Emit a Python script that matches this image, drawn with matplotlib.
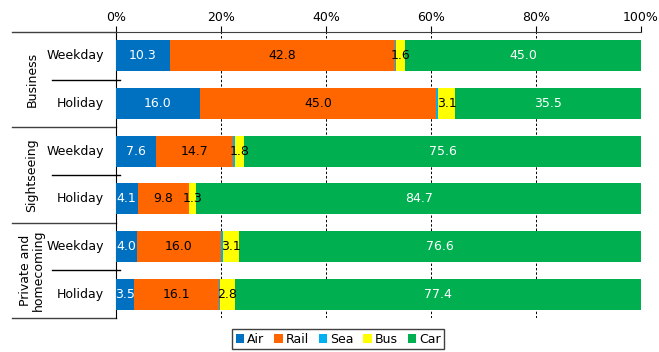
import matplotlib.pyplot as plt
import matplotlib.transforms as mtransforms
import numpy as np

plt.rcParams["font.family"] = ["DejaVu Sans"]
plt.rcParams["font.size"] = 9

groups = ["Business", "Sightseeing", "Private and\nhomecoming"]
days = ["Weekday", "Holiday"]
modes = ["Air", "Rail", "Sea", "Bus", "Car"]
colors = ["#0070C0", "#FF6600", "#00B0F0", "#FFFF00", "#00B050"]
label_colors = ["white", "black", None, "black", "white"]

air = [10.3, 16.0, 7.6, 4.1, 4.0, 3.5]
rail = [42.8, 45.0, 14.7, 9.8, 16.0, 16.1]
sea = [0.3, 0.4, 0.3, 0.1, 0.3, 0.2]
bus = [1.6, 3.1, 1.8, 1.3, 3.1, 2.8]
car = [45.0, 35.5, 75.6, 84.7, 76.6, 77.4]
values = [air, rail, sea, bus, car]

fig = plt.figure(figsize=(6.59, 3.52), dpi=100)
ax = fig.add_axes([0.176, 0.0966, 0.7967, 0.8124])

y = np.arange(6)
left = np.zeros(6)
for mode, vals, color, lc in zip(modes, values, colors, label_colors):
    vals = np.array(vals)
    ax.barh(y, vals, left=left, height=0.65, color=color, label=mode,
            edgecolor="none", zorder=3)
    if lc is not None:
        for yi, (l, v) in enumerate(zip(left, vals)):
            ax.text(l + v / 2, yi, f"{v:.1f}", ha="center", va="center",
                    color=lc, fontsize=9, zorder=4)
    left = left + vals

ax.set_xlim(0, 100)
ax.set_ylim(5.5, -0.5)
ax.xaxis.tick_top()
ax.set_xticks([0, 20, 40, 60, 80, 100])
ax.set_xticklabels([f"{t}%" for t in [0, 20, 40, 60, 80, 100]])
ax.tick_params(axis="x", length=4, width=0.8, pad=2)
ax.set_yticks([])
for s in ["right", "bottom"]:
    ax.spines[s].set_visible(False)
ax.spines["left"].set_color("black")
ax.spines["top"].set_color("#404040")
for xv in [20, 40, 60, 80, 100]:
    ax.axvline(xv, color="black", linewidth=0.7, linestyle=(0, (2.5, 2)),
               zorder=1)

trans = mtransforms.blended_transform_factory(ax.transAxes, ax.transData)
for yv in [-0.5, 1.5, 3.5, 5.5]:
    ax.plot([-0.198, 0], [yv, yv], color="#404040", linewidth=1.0,
            transform=trans, clip_on=False)
for yv in [0.5, 2.5, 4.5]:
    ax.plot([-0.122, 0.0076], [yv, yv], color="black", linewidth=1.0,
            transform=trans, clip_on=False)

for i in range(6):
    ax.text(-0.023, i, days[i % 2], ha="right", va="center",
            transform=trans, fontsize=9)
for g, name in enumerate(groups):
    ax.text(-0.16, 2 * g + 0.5, name, ha="center", va="center",
            rotation=90, transform=trans, fontsize=9, linespacing=1.0)

fig.legend(loc="lower center", bbox_to_anchor=(0.513, -0.01), ncol=5,
           frameon=True, fancybox=False, edgecolor="#404040", framealpha=1,
           handlelength=0.7, handleheight=0.7, handletextpad=0.2,
           columnspacing=0.8, borderpad=0.3, fontsize=9)

fig.savefig("out.png", dpi=100)
